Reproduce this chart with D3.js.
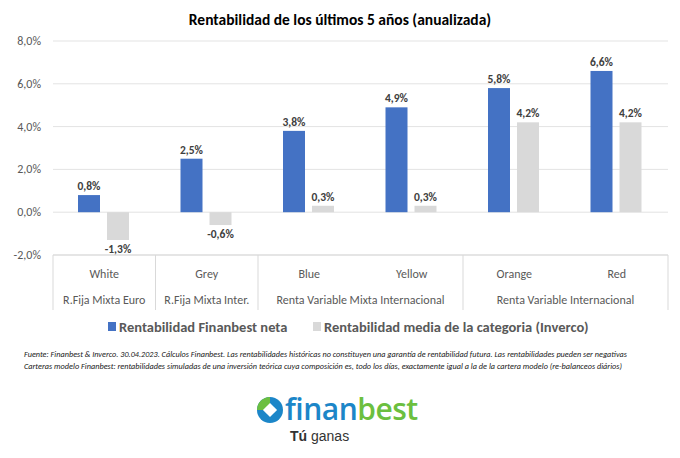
<!DOCTYPE html>
<html><head><meta charset="utf-8">
<script src="https://cdn.jsdelivr.net/npm/d3@7"></script>
<style>body{margin:0;background:#fff}text{font-family:Calibri,"Liberation Sans","DejaVu Sans",sans-serif}</style>
</head><body><svg id="c" width="680" height="458"></svg>
<script>
const categories = ["White", "Grey", "Blue", "Yellow", "Orange", "Red"];
const groups = [
  { label: "R.Fija Mixta Euro", from: 0, to: 0 },
  { label: "R.Fija Mixta Inter.", from: 1, to: 1 },
  { label: "Renta Variable Mixta Internacional", from: 2, to: 3 },
  { label: "Renta Variable Internacional", from: 4, to: 5 }
];
const finanbest = [0.8, 2.5, 3.8, 4.9, 5.8, 6.6];
const inverco = [-1.3, -0.6, 0.3, 0.3, 4.2, 4.2];
const yTicks = [-2, 0, 2, 4, 6, 8];
const seriesNames = ["Rentabilidad Finanbest neta", "Rentabilidad media de la categoria (Inverco)"];
const colors = ["#4472C4", "#D9D9D9"];

const svg = d3.select("#c");
const plotL = 53, plotR = 668, plotT = 41, plotB = 255;
const fmt = v => v.toFixed(1).replace(".", ",") + "%";

const x = d3.scaleBand().domain(categories).range([plotL, plotR]);
const y = d3.scaleLinear().domain([-2, 8]).range([plotB, plotT]);

svg.append("text").attr("x", 340).attr("y", 25).attr("text-anchor", "middle")
  .style("font-size", "15.5px").style("font-weight", "bold").text("Rentabilidad de los últimos 5 años (anualizada)");

svg.append("g").selectAll("line").data(yTicks).join("line")
  .attr("x1", plotL).attr("x2", plotR).attr("y1", d => y(d)).attr("y2", d => y(d))
  .attr("stroke", "#e3e3e3");
svg.append("g").selectAll("text").data(yTicks).join("text")
  .attr("x", 41).attr("y", d => y(d) + 4).attr("text-anchor", "end")
  .style("font-size", "12px").attr("fill", "#595959").text(d => fmt(d));

const bw = 22;
const series = [finanbest, inverco];
series.forEach((vals, s) => {
  const xo = s === 0 ? 25 : 54;
  const g = svg.append("g");
  g.selectAll("rect").data(vals).join("rect")
    .attr("x", (d, i) => x(categories[i]) + xo).attr("width", bw)
    .attr("y", d => y(Math.max(0, d))).attr("height", d => Math.abs(y(d) - y(0)))
    .attr("fill", colors[s]);
  g.selectAll("text").data(vals).join("text")
    .attr("x", (d, i) => x(categories[i]) + xo + bw / 2)
    .attr("y", d => d >= 0 ? y(d) - 5 : y(d) + 13)
    .attr("text-anchor", "middle").style("font-size", "11.5px").style("font-weight", "bold")
    .attr("fill", "#404040").text(d => fmt(d));
});

// category axis box
const axisG = svg.append("g").attr("stroke", "#d9d9d9");
axisG.append("line").attr("x1", plotL).attr("x2", plotR).attr("y1", plotB).attr("y2", plotB);
const edges = [0].concat(groups.map(g => g.to + 1));
edges.forEach(e => {
  const xx = e < categories.length ? x(categories[e]) : plotR;
  axisG.append("line").attr("x1", xx).attr("x2", xx).attr("y1", plotB).attr("y2", 310);
});
svg.append("g").selectAll("text").data(categories).join("text")
  .attr("x", d => x(d) + x.bandwidth() / 2).attr("y", 278).attr("text-anchor", "middle")
  .style("font-size", "12px").attr("fill", "#595959").text(d => d);
svg.append("g").selectAll("text").data(groups).join("text")
  .attr("x", g => (x(categories[g.from]) + x(categories[g.to]) + x.bandwidth()) / 2)
  .attr("y", 304).attr("text-anchor", "middle")
  .style("font-size", "12px").attr("fill", "#595959").text(g => g.label);

// legend
const lg = svg.append("g");
[[108, 0], [313, 1]].forEach(([lx, i]) => {
  lg.append("rect").attr("x", lx).attr("y", 322).attr("width", 8).attr("height", 9).attr("fill", colors[i]);
  lg.append("text").attr("x", lx + 11).attr("y", 332).style("font-size", "14.5px").style("font-weight", "bold")
    .attr("fill", "#595959").text(seriesNames[i]);
});

// footer
const notes = [
  "Fuente: Finanbest & Inverco. 30.04.2023. Cálculos Finanbest. Las rentabilidades históricas no constituyen una garantía de rentabilidad futura. Las rentabilidades pueden ser negativas",
  "Carteras modelo Finanbest: rentabilidades simuladas de una inversión teórica cuya composición es, todo los días, exactamente igual a la de la cartera modelo (re-balanceos diários)"
];
svg.append("g").selectAll("text").data(notes).join("text")
  .attr("x", 24).attr("y", (d, i) => 357 + i * 12)
  .style("font-size", "7px").style("font-style", "italic").attr("fill", "#222")
  .attr("textLength", (d, i) => i === 0 ? 603 : 598).attr("lengthAdjust", "spacingAndGlyphs").text(d => d);

// logo
const logo = svg.append("g").attr("transform", "translate(270,410)");
logo.append("circle").attr("cx", 0).attr("cy", 0).attr("r", 13).attr("fill", "#1c86c8");
logo.append("path").attr("d", "M-13,0 A13,13 0 0 1 0,-13 L0,-6 L-6,0 Z").attr("fill", "#6cbf3f");
logo.append("rect").attr("x", -5).attr("y", -5).attr("width", 10).attr("height", 10)
  .attr("transform", "rotate(45)").attr("fill", "#fff");
const lt = logo.append("text").attr("x", 15).attr("y", 10).style("font-size", "30px")
  .style("font-family", "'Open Sans',sans-serif").style("font-weight", "600").attr("letter-spacing", "-0.5");
lt.append("tspan").attr("fill", "#1c86c8").text("finan");
lt.append("tspan").attr("fill", "#6cbf3f").text("best");
const tg = logo.append("text").attr("x", 20).attr("y", 31).style("font-size", "14px").attr("fill", "#333")
  .style("font-family", "'Liberation Sans Narrow','Liberation Sans',sans-serif");
tg.append("tspan").style("font-weight", "bold").text("Tú");
tg.append("tspan").text(" ganas");
</script></body></html>
